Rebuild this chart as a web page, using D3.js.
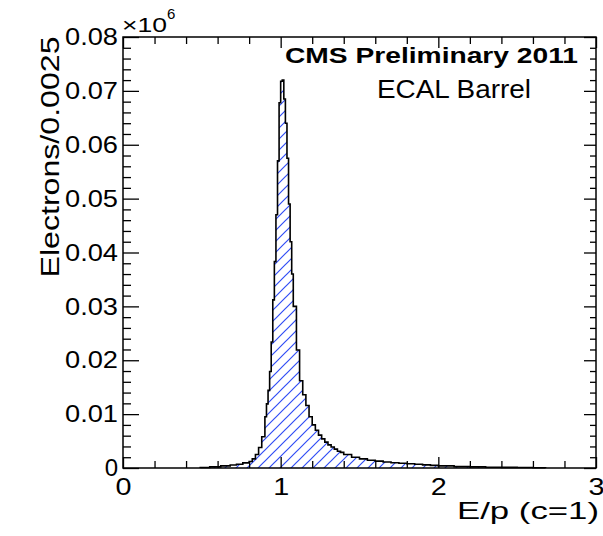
<!DOCTYPE html>
<html>
<head>
<meta charset="utf-8">
<script src="https://cdn.jsdelivr.net/npm/d3@7"></script>
<style>
  html, body { margin: 0; padding: 0; background: #fff; }
  text { font-family: "Liberation Sans", Arial, Helvetica, sans-serif; fill: #000; }
</style>
</head>
<body>
<div id="chart"></div>
<script>
// histogram bins, E/p (lower/upper edges), counts in units of 10^6 electrons
const binEdges = [
  0.49, 0.55, 0.62, 0.68, 0.72, 0.76, 0.80, 0.82, 0.84, 0.86, 0.88, 0.90,
  0.91, 0.92, 0.93, 0.94, 0.95, 0.96, 0.97, 0.98, 0.99, 1.00, 1.01, 1.02,
  1.03, 1.04, 1.05, 1.06, 1.07, 1.08, 1.10, 1.12, 1.14, 1.16, 1.18, 1.20,
  1.22, 1.24, 1.26, 1.28, 1.30, 1.32, 1.34, 1.36, 1.38, 1.40, 1.45, 1.50,
  1.55, 1.60, 1.65, 1.70, 1.75, 1.80, 1.85, 1.90, 1.95, 2.00, 2.10, 2.20,
  2.30, 2.40, 2.50, 2.60, 2.68
]
const counts = [
  0.0001, 0.0002, 0.0004, 0.00055, 0.0007, 0.00095, 0.0012, 0.0017, 0.0025, 0.0038, 0.0058,
  0.0095, 0.0119, 0.0144, 0.0179, 0.0234, 0.0312, 0.0383, 0.0470, 0.0570, 0.0678,
  0.0718, 0.0720, 0.0685, 0.0640, 0.0575, 0.0490, 0.0420, 0.0360, 0.0300, 0.0219,
  0.0162, 0.0136, 0.0116, 0.0095, 0.0080, 0.0070, 0.0061, 0.0054, 0.0048, 0.0043,
  0.0039, 0.0035, 0.0031, 0.0029, 0.0025, 0.0020, 0.0017, 0.00145,
  0.00128, 0.00111, 0.00098, 0.00087, 0.00078, 0.00069, 0.00058, 0.00048,
  0.00039, 0.00026, 0.0002, 0.00015, 0.00012, 0.0001, 0.00006
]

const xMajor = [0, 1, 2, 3]
const xMinor = [0.2, 0.4, 0.6, 0.8, 1.2, 1.4, 1.6, 1.8, 2.2, 2.4, 2.6, 2.8]
const yMajor = [0, 0.01, 0.02, 0.03, 0.04, 0.05, 0.06, 0.07, 0.08]
const yMinor = [0.002, 0.004, 0.006, 0.008, 0.012, 0.014, 0.016, 0.018, 0.022, 0.024, 0.026, 0.028,
  0.032, 0.034, 0.036, 0.038, 0.042, 0.044, 0.046, 0.048, 0.052, 0.054, 0.056, 0.058,
  0.062, 0.064, 0.066, 0.068, 0.072, 0.074, 0.076, 0.078]

const titleText = "CMS Preliminary 2011"
const subText = "ECAL Barrel"
const xTitle = "E/p (c=1)"
const yTitle = "Electrons/0.0025"

const dims = {
  width: 603,
  height: 536,
  left: 123, right: 596,
  top: 37, bottom: 468
}

const svg = d3.select("#chart").append("svg")
  .attr("width", dims.width)
  .attr("height", dims.height)

svg.append("rect").attr("width", dims.width).attr("height", dims.height).attr("fill", "#fff")

// ROOT style hatch (3004-ish), blue "/" lines
const defs = svg.append("defs")
const hatch = defs.append("pattern")
  .attr("id", "hatch-blue")
  .attr("patternUnits", "userSpaceOnUse")
  .attr("width", 11).attr("height", 11)
hatch.append("path")
  .attr("d", "M-1,1 L1,-1 M0,11 L11,0 M10,12 L12,10")
  .style("stroke", "#2f4cf5")
  .style("stroke-width", "1.2px")
  .style("fill", "none")

const xScale = d3.scaleLinear().domain([0, 3]).range([dims.left, dims.right])
const yScale = d3.scaleLinear().domain([0, 0.08]).range([dims.bottom, dims.top])

// step points for the histogram outline
const pts = [{x: binEdges[0], y: 0}]
counts.forEach((c, i) => pts.push({x: binEdges[i], y: c}))
pts.push({x: binEdges[binEdges.length - 1], y: counts[counts.length - 1]})
pts.push({x: binEdges[binEdges.length - 1], y: 0})

const area = d3.area()
  .x(d => xScale(d.x))
  .y0(yScale(0))
  .y1(d => yScale(d.y))
  .curve(d3.curveStepAfter)

const line = d3.line()
  .x(d => xScale(d.x))
  .y(d => yScale(d.y))
  .curve(d3.curveStepAfter)

svg.append("path").datum(pts).attr("d", area).attr("fill", "url(#hatch-blue)")
svg.append("path").datum(pts).attr("d", line)
  .attr("fill", "none").attr("stroke", "#000").attr("stroke-width", 1.6)

// axes, ticks pointing inward on all four sides
const fmtY = d => d === 0 ? "0" : d.toFixed(2)

const gLeft = svg.append("g").attr("transform", `translate(${dims.left},0)`)
gLeft.call(d3.axisLeft(yScale).tickValues(yMajor).tickSize(-16).tickSizeOuter(0).tickPadding(5).tickFormat(fmtY))
gLeft.selectAll("text")
  .attr("font-size", 24)
  .attr("textLength", d => d === 0 ? null : 53)
  .attr("lengthAdjust", "spacingAndGlyphs")
svg.append("g").attr("transform", `translate(${dims.left},0)`)
  .call(d3.axisLeft(yScale).tickValues(yMinor).tickSize(-8).tickSizeOuter(0).tickFormat(""))

svg.append("g").attr("transform", `translate(${dims.right},0)`)
  .call(d3.axisRight(yScale).tickValues(yMajor).tickSize(-12).tickSizeOuter(0).tickFormat(""))
svg.append("g").attr("transform", `translate(${dims.right},0)`)
  .call(d3.axisRight(yScale).tickValues(yMinor).tickSize(-6).tickSizeOuter(0).tickFormat(""))

const gBottom = svg.append("g").attr("transform", `translate(0,${dims.bottom})`)
gBottom.call(d3.axisBottom(xScale).tickValues(xMajor).tickSize(-11).tickSizeOuter(0).tickPadding(11).tickFormat(d3.format("d")))
gBottom.selectAll("text")
  .attr("font-size", 23)
  .attr("textLength", 16)
  .attr("lengthAdjust", "spacingAndGlyphs")
svg.append("g").attr("transform", `translate(0,${dims.bottom})`)
  .call(d3.axisBottom(xScale).tickValues(xMinor).tickSize(-7).tickSizeOuter(0).tickFormat(""))

svg.append("g").attr("transform", `translate(0,${dims.top})`)
  .call(d3.axisTop(xScale).tickValues(xMajor).tickSize(-11).tickSizeOuter(0).tickFormat(""))
svg.append("g").attr("transform", `translate(0,${dims.top})`)
  .call(d3.axisTop(xScale).tickValues(xMinor).tickSize(-7).tickSizeOuter(0).tickFormat(""))

svg.selectAll(".tick line").attr("stroke", "#000").attr("stroke-width", 1.3)
svg.selectAll(".domain").remove()

// frame
svg.append("rect")
  .attr("x", dims.left).attr("y", dims.top)
  .attr("width", dims.right - dims.left).attr("height", dims.bottom - dims.top)
  .attr("fill", "none").attr("stroke", "#000").attr("stroke-width", 1.5)

// exponent
const expo = svg.append("text").attr("x", 122).attr("y", 32).attr("font-size", 21)
expo.append("tspan").text("×10").attr("textLength", 45).attr("lengthAdjust", "spacingAndGlyphs")
expo.append("tspan").attr("dy", -13).attr("font-size", 15).text("6")

// titles
svg.append("text")
  .attr("x", 285).attr("y", 63)
  .attr("font-size", 22).attr("font-weight", "bold")
  .attr("textLength", 293).attr("lengthAdjust", "spacingAndGlyphs")
  .text(titleText)

svg.append("text")
  .attr("x", 377).attr("y", 98)
  .attr("font-size", 25)
  .attr("textLength", 154).attr("lengthAdjust", "spacingAndGlyphs")
  .text(subText)

svg.append("text")
  .attr("x", 457).attr("y", 519)
  .attr("font-size", 24)
  .attr("textLength", 142).attr("lengthAdjust", "spacingAndGlyphs")
  .text(xTitle)

svg.append("text")
  .attr("transform", "translate(59,157) rotate(-90)")
  .attr("text-anchor", "middle")
  .attr("font-size", 25)
  .attr("textLength", 241).attr("lengthAdjust", "spacingAndGlyphs")
  .text(yTitle)
</script>
</body>
</html>
